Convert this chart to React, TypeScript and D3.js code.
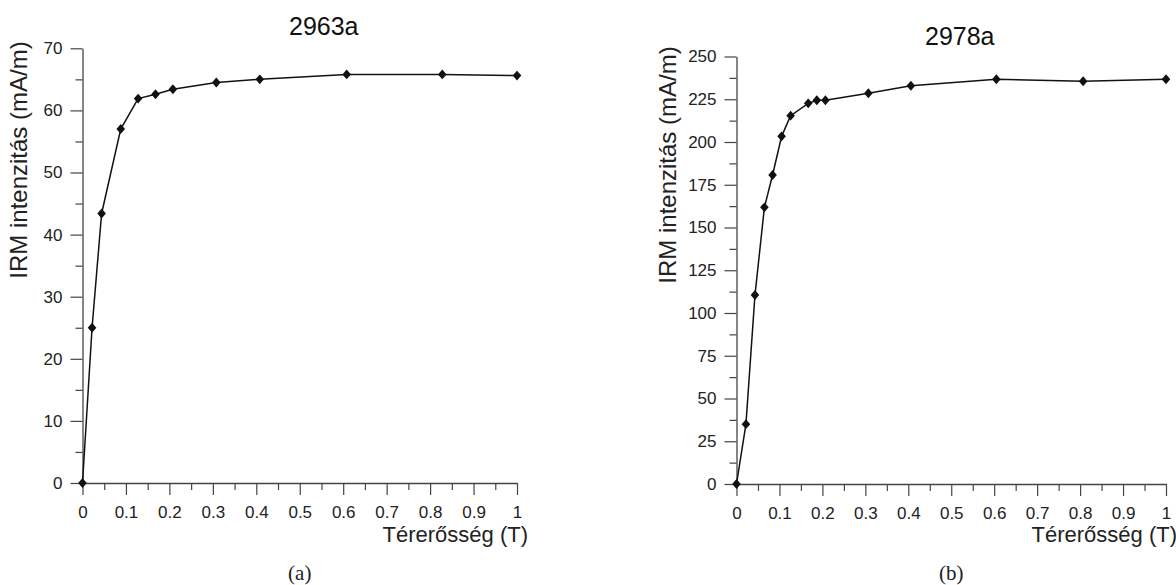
import React, { useEffect, useRef } from "react";
import * as d3 from "d3";

const width = 1176;
const height = 585;

// 2963a sample
const fieldA = [0, 0.022, 0.044, 0.088, 0.128, 0.168, 0.208, 0.308, 0.408, 0.608, 0.828, 1.0];
const irmA = [0, 25, 43.4, 57, 61.9, 62.6, 63.4, 64.5, 65, 65.8, 65.8, 65.6];

// 2978a sample
const fieldB = [0, 0.022, 0.043, 0.065, 0.084, 0.105, 0.126, 0.167, 0.187, 0.207, 0.307, 0.406, 0.605, 0.807, 1.0];
const irmB = [0, 35, 110.5, 161.8, 180.7, 203.3, 215.4, 222.6, 224.4, 224.4, 228.5, 232.9, 236.7, 235.5, 236.7];

const xTicks = [0, 0.1, 0.2, 0.3, 0.4, 0.5, 0.6, 0.7, 0.8, 0.9, 1];
const yTicksA = [0, 10, 20, 30, 40, 50, 60, 70];
const yTicksB = [0, 25, 50, 75, 100, 125, 150, 175, 200, 225, 250];

const font = "'Liberation Sans', Arial, sans-serif";

// slightly tall diamond marker
const diamond = {
  draw(ctx, size) {
    const r = Math.sqrt(size) / 2;
    ctx.moveTo(0, -r * 1.15);
    ctx.lineTo(r, 0);
    ctx.lineTo(0, r * 1.15);
    ctx.lineTo(-r, 0);
    ctx.closePath();
  },
};

function drawPanel(svg, cfg) {
  const x = d3.scaleLinear().domain([0, 1]).range([cfg.x0, cfg.x1]);
  const y = d3.scaleLinear().domain([0, cfg.yMax]).range([cfg.y0, cfg.y1]);
  const g = svg.append("g");

  // minor ticks first
  g.append("g")
    .attr("transform", `translate(0,${cfg.y0})`)
    .call(d3.axisBottom(x).tickValues(d3.range(0.05, 1, 0.1)).tickSize(7).tickFormat(() => ""))
    .call((a) => a.select(".domain").remove());
  g.append("g")
    .attr("transform", `translate(${cfg.x0},0)`)
    .call(d3.axisLeft(y).tickValues(cfg.yTicks.slice(1).map((t) => t - cfg.yMinor)).tickSize(7).tickFormat(() => ""))
    .call((a) => a.select(".domain").remove());

  const xa = g.append("g")
    .attr("transform", `translate(0,${cfg.y0})`)
    .call(d3.axisBottom(x).tickValues(xTicks).tickSize(12).tickSizeOuter(0).tickPadding(11).tickFormat(d3.format("~g")));
  const ya = g.append("g")
    .attr("transform", `translate(${cfg.x0},0)`)
    .call(d3.axisLeft(y).tickValues(cfg.yTicks).tickSize(12).tickSizeOuter(0).tickPadding(8));

  [xa, ya].forEach((a) => {
    a.selectAll("text").attr("font-family", font).attr("font-size", 17).attr("fill", "#222");
  });
  g.selectAll("line").attr("stroke", "#444").attr("stroke-width", 1.2);
  g.selectAll(".domain").attr("stroke", "#444").attr("stroke-width", 1.3);

  const pts = cfg.xs.map((v, i) => [v, cfg.ys[i]]);
  g.append("path")
    .attr("d", d3.line().x((d) => x(d[0])).y((d) => y(d[1]))(pts))
    .attr("fill", "none")
    .attr("stroke", "#111")
    .attr("stroke-width", 1.5);

  g.selectAll(".pt")
    .data(pts)
    .enter()
    .append("path")
    .attr("transform", (d) => `translate(${x(d[0])},${y(d[1])})`)
    .attr("d", d3.symbol().type(diamond).size(74))
    .attr("fill", "#111");

  g.append("text")
    .attr("x", cfg.titleX)
    .attr("y", cfg.titleY)
    .attr("font-family", font)
    .attr("font-size", 25)
    .attr("fill", "#111")
    .text(cfg.title);

  g.append("text")
    .attr("transform", `translate(${cfg.yLabelX},${cfg.yLabelY}) rotate(-90)`)
    .attr("text-anchor", "middle")
    .attr("font-family", font)
    .attr("font-size", 24)
    .attr("fill", "#222")
    .text("IRM intenzitás (mA/m)");

  g.append("text")
    .attr("x", cfg.x1 + 11)
    .attr("y", 542)
    .attr("text-anchor", "end")
    .attr("font-family", font)
    .attr("font-size", 22)
    .attr("fill", "#222")
    .text("Térerősség (T)");

  g.append("text")
    .attr("x", (cfg.x0 + cfg.x1) / 2)
    .attr("y", 580)
    .attr("text-anchor", "middle")
    .attr("font-family", "'Liberation Serif', 'Times New Roman', serif")
    .attr("font-size", 21)
    .attr("fill", "#222")
    .text(cfg.caption);
}

export default function App() {
  const svgRef = useRef(null);

  useEffect(() => {
    const svg = d3.select(svgRef.current);
    svg.selectAll("*").remove();

    drawPanel(svg, {
      x0: 82.5, x1: 517, y0: 483, y1: 48.3, yMax: 70,
      yTicks: yTicksA, yMinor: 5, xs: fieldA, ys: irmA,
      title: "2963a", titleX: 289, titleY: 35,
      yLabelX: 27, yLabelY: 160, caption: "(a)",
    });
    drawPanel(svg, {
      x0: 736.5, x1: 1166, y0: 484, y1: 56.5, yMax: 250,
      yTicks: yTicksB, yMinor: 12.5, xs: fieldB, ys: irmB,
      title: "2978a", titleX: 925, titleY: 45,
      yLabelX: 676, yLabelY: 165, caption: "(b)",
    });
  }, []);

  return (
    <svg
      ref={svgRef}
      width={width}
      height={height}
      style={{ position: "absolute", left: 0, top: 0, background: "#fff" }}
    />
  );
}
